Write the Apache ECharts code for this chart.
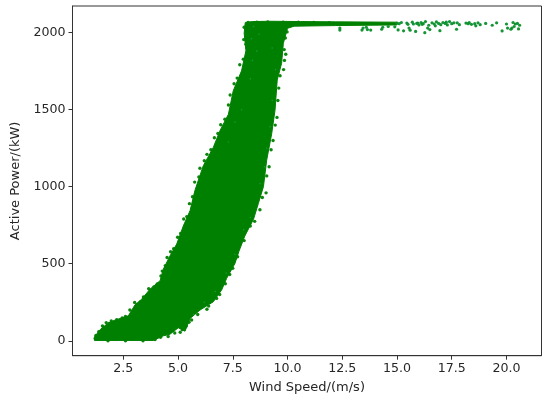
<!DOCTYPE html>
<html><head><meta charset="utf-8">
<script src="https://cdn.jsdelivr.net/npm/echarts@6/dist/echarts.min.js"></script>
<style>html,body{margin:0;padding:0;background:#fff}#c{width:550px;height:403px}</style>
</head><body><div id="c"></div>
<script>
const xTicks = [2.5, 5, 7.5, 10, 12.5, 15, 17.5, 20];
const yTicks = [0, 500, 1000, 1500, 2000];
// dense cloud outline, clockwise from the low-wind tip
const cloudOutline = [
 [1.18,2],[1.18,24],[1.44,72],[1.71,104],[2.04,130],[2.73,162],[3.03,232],[3.34,270],[3.72,335],
 [4.18,390],[4.33,465],[4.63,550],[4.94,628],[5.24,745],[5.55,845],[5.77,975],[6.15,1135],[6.61,1255],
 [6.92,1365],[7.30,1470],[7.52,1622],[7.90,1752],[8.10,1882],[8.02,1996],[8.07,2066],[8.4,2072],[9.2,2074],
 [10.6,2072],[12.2,2070],[15.0,2068],[15.0,2050],[12.2,2046],[10.3,2042],[10.0,2028],[9.81,1931],[9.73,1801],[9.53,1693],[9.43,1498],
 [9.28,1346],[9.05,1173],[8.90,1000],[8.67,892],[8.45,790],[8.05,680],[7.78,580],[7.60,502],[7.22,405],
 [6.99,329],[6.61,253],[6.00,199],[5.55,145],[5.32,62],[5.01,84],[4.63,42],[4.33,32],[3.87,2]
];
// scattered dots along the cloud's rough edge
const edgeDots = [
 [1.22,14],[1.25,34],[1.38,58],[1.55,96],[1.62,82],[1.72,118],[1.85,112],[1.95,128],[2.2,136],[2.45,148],[2.6,158],[2.8,200],[2.95,178],[3.02,248],[3.12,232],
 [3.28,252],[3.42,284],[3.55,286],[3.66,338],[3.9,350],[4.05,368],[4.22,420],[4.28,452],[4.42,488],[4.5,540],[4.66,578],[4.8,598],[4.98,672],[5.12,696],
 [5.26,790],[5.4,806],[5.52,890],[5.66,935],[5.76,1030],[5.95,1063],[6.0,1120],[6.2,1168],[6.32,1210],[6.5,1240],[6.66,1318],
 [6.82,1345],[6.95,1402],[7.14,1438],[7.3,1530],[7.38,1595],[7.56,1668],[7.7,1705],[7.82,1792],[7.98,1828],[8.1,1925],[8.0,1955],[8.02,2035],
 [8.2,2066],[8.6,2068],[9.1,2070],[9.8,2068],[10.5,2068],[11.2,2066],[11.9,2064],
 [9.98,2005],[9.9,1965],[9.85,1890],[9.92,1860],[9.86,1820],[9.82,1760],[9.66,1720],[9.6,1640],[9.56,1560],[9.52,1450],[9.44,1400],
 [9.34,1300],[9.25,1240],[9.16,1130],[9.05,1070],[9.02,960],[8.85,930],[8.74,850],[8.5,775],[8.3,745],[8.02,650],[7.8,630],[7.72,545],
 [7.5,470],[7.36,430],[7.16,370],[6.9,300],[6.76,275],[6.4,225],[6.2,235],[6.32,205],[5.9,170],[5.76,185],[5.5,120],[5.62,135],[5.38,95],[5.2,72],[5.1,55],[4.85,50],[4.72,72],[4.55,28],
 [4.2,22],[3.95,8],[3.4,0],[2.6,0],[1.8,0]
];
// lighter specks inside the top of the cloud, where the cloud thins out
const specks = [[8.45,2040],[8.7,1990],[8.35,1960],[8.6,1880],[8.4,1820],[8.3,1700],[9.3,1900],[9.45,1760],[9.3,1560],[9.2,1390],[9.05,1250],[7.9,1500],[7.6,1420],[7.3,1290],[8.95,1130],[8.75,1020],[8.3,800],[8.0,720],[7.6,560],[7.2,440],[6.7,320],[6.2,250],[5.7,170]];
// the plateau at rated power, high wind speeds
const plateauWind = [12.39,12.39,13.4,13.45,13.6,13.65,13.8,14.3,14.35,15.0,15.05,15.1,15.2,15.3,15.45,15.5,15.55,15.6,15.7,15.75,15.85,15.9,15.95,16.0,16.1,16.15,16.2,16.27,16.3,16.4,16.45,16.5,16.6,16.7,16.75,16.8,16.9,16.96,17.0,17.1,17.2,17.25,17.3,17.4,17.5,17.6,17.72,17.75,17.85,
 18.15,18.25,18.3,18.4,18.55,18.6,18.7,18.8,19.05,19.35,19.55,19.8,20.0,20.05,20.2,20.3,20.35,20.4,20.5,20.6,20.55,20.25,14.9,14.6];
const plateauPower = [2017,2030,2017,2030,2035,2020,2017,2022,2035,2062,2018,2058,2066,2012,2062,2054,2030,2016,2068,2056,2008,2060,2062,2050,2066,2054,2058,2000,2072,2030,2048,2020,2064,2056,2044,2070,2060,2013,2052,2066,2060,2068,2050,2072,2058,2064,2022,2064,2052,
 2062,2058,2066,2054,2058,2044,2064,2052,2060,2048,2064,2011,2056,2030,2022,2066,2040,2056,2060,2048,2024,2030,2038,2040];
const plateauDots = plateauWind.map((w, i) => [w, plateauPower[i]]);

const chart = echarts.init(document.getElementById('c'), null, {renderer: 'canvas'});
const font = {fontFamily: 'DejaVu Sans', fontSize: 12.6, color: '#262626'};
const nameFont = {fontFamily: 'DejaVu Sans', fontSize: 13, color: '#262626'};
const axisBase = {
  nameLocation: 'middle', splitLine: {show: false},
  axisLine: {show: true, onZero: false, lineStyle: {color: '#333', width: 1}},
  axisTick: {show: true, length: 4, lineStyle: {color: '#333', width: 1}},
  nameTextStyle: nameFont
};
chart.setOption({
  animation: false,
  backgroundColor: '#fff',
  grid: {left: 72.5, top: 6, width: 469, height: 349.7, show: true, borderColor: '#333', borderWidth: 1, backgroundColor: 'transparent'},
  xAxis: Object.assign({}, axisBase, {
    type: 'value', min: 0.18, max: 21.6, name: 'Wind Speed/(m/s)', nameGap: 25,
    axisTick: Object.assign({}, axisBase.axisTick, {customValues: xTicks}),
    axisLabel: Object.assign({}, font, {customValues: xTicks, margin: 7, formatter: v => v.toFixed(1)})
  }),
  yAxis: Object.assign({}, axisBase, {
    type: 'value', min: -97, max: 2173, name: 'Active Power/(kW)', nameGap: 47,
    axisTick: Object.assign({}, axisBase.axisTick, {customValues: yTicks}),
    axisLabel: Object.assign({}, font, {customValues: yTicks, margin: 7, formatter: v => String(v)})
  }),
  series: [
    {type: 'custom', coordinateSystem: 'cartesian2d', data: [[cloudOutline[0][0], cloudOutline[0][1]]], silent: true, clip: true,
     renderItem: (p, api) => ({type: 'polygon',
       shape: {points: cloudOutline.map(d => api.coord(d))},
       style: {fill: '#008000', stroke: '#008000', lineWidth: 1}})},
    {type: 'scatter', data: edgeDots, symbolSize: 3.4, itemStyle: {color: '#008000', opacity: 0.95}, silent: true},
    {type: 'scatter', data: specks, symbolSize: 1.6, itemStyle: {color: '#2aa04a', opacity: 0.7}, silent: true},
    {type: 'scatter', data: plateauDots, symbolSize: 3.2, itemStyle: {color: '#0a8f2c', opacity: 0.95}, silent: true}
  ]
});
</script></body></html>
